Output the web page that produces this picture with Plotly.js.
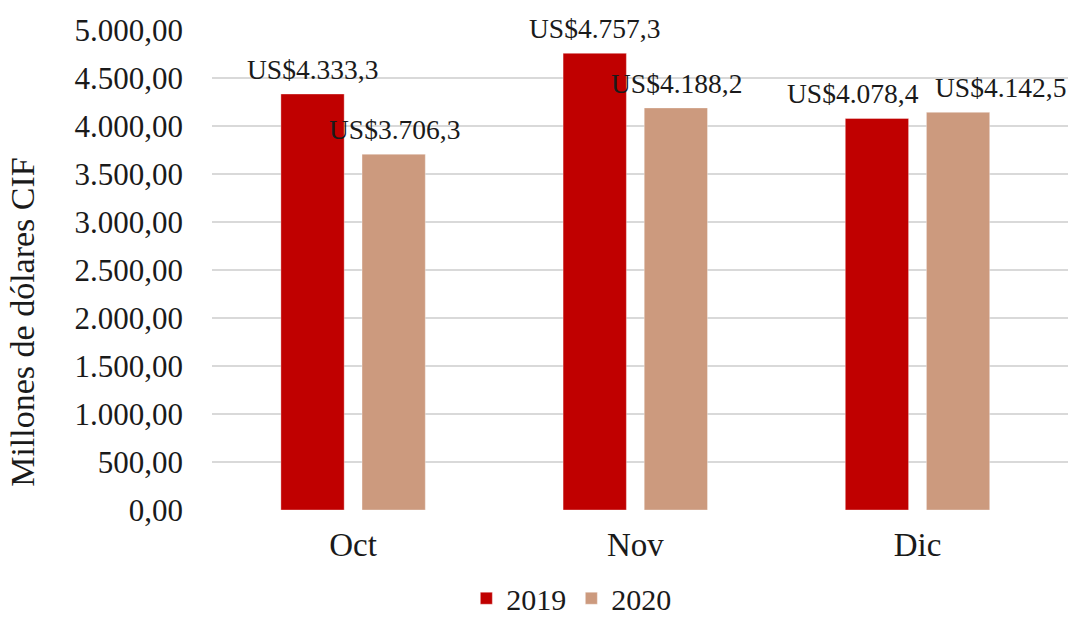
<!DOCTYPE html>
<html>
<head>
<meta charset="utf-8">
<script src="https://cdn.plot.ly/plotly-3.0.1.min.js"></script>
<style>html,body{margin:0;padding:0;background:#fff;}#chart{width:1077px;height:618px;}</style>
</head>
<body>
<div id="chart"></div>
<script>
var months = ["Oct", "Nov", "Dic"];
var seriesNames = ["2019", "2020"];
var values2019 = [4333.3, 4757.3, 4078.4];
var values2020 = [3706.3, 4188.2, 4142.5];
var tickVals = [0, 500, 1000, 1500, 2000, 2500, 3000, 3500, 4000, 4500, 5000];
var yTitle = "Millones de dólares CIF";

var colors = ["#C00000", "#CC9A7E"];
var FONT = "Liberation Serif, Times New Roman, serif";
var TXT = "#1a1a1a";
var seriesShift = [-41, 41];
var labelNudge = [[0, 0, -24], [0, 0, 42]];

function fmt(v) {
  var s = v.toFixed(1).split(".");
  var intPart = s[0].replace(/\B(?=(\d{3})+(?!\d))/g, ".");
  return "US$" + intPart + "," + s[1];
}

var allValues = [values2019, values2020];
var traces = allValues.map(function (vals, i) {
  return {
    type: "bar",
    name: seriesNames[i],
    x: months,
    y: vals,
    marker: { color: colors[i], line: { color: "rgba(255,255,255,0.35)", width: 1 } },
    hoverinfo: "skip"
  };
});

var annotations = [];
allValues.forEach(function (vals, i) {
  vals.forEach(function (v, j) {
    annotations.push({
      x: months[j], y: v, xref: "x", yref: "y",
      text: fmt(v),
      showarrow: false, yanchor: "bottom", xanchor: "center",
      xshift: seriesShift[i] + labelNudge[i][j], yshift: 7,
      font: { family: FONT, size: 27.5, color: TXT }
    });
  });
});
// y-axis title (placed as rotated text, offset toward the bottom like the original)
annotations.push({
  text: yTitle, xref: "paper", yref: "paper",
  x: -0.2208, y: 0.392, xanchor: "center", yanchor: "middle",
  textangle: -90, showarrow: false,
  font: { family: FONT, size: 34, color: TXT }
});

var layout = {
  width: 1077, height: 618,
  paper_bgcolor: "#ffffff", plot_bgcolor: "#ffffff",
  separators: ",.",
  margin: { l: 212, r: 9, t: 30, b: 108, pad: 0 },
  font: { family: FONT, size: 31, color: TXT },
  barmode: "group",
  bargap: 0.425,
  bargroupgap: 0.22,
  showlegend: true,
  legend: {
    orientation: "h",
    xref: "container", yref: "container",
    x: 0.433, xanchor: "left",
    y: 0.032, yanchor: "middle",
    font: { family: FONT, size: 30, color: TXT },
    itemwidth: 30,
    tracegroupgap: 0
  },
  xaxis: {
    type: "category",
    showgrid: false, zeroline: false, showline: false,
    ticks: "", ticklabelstandoff: 12,
    tickfont: { family: FONT, size: 33, color: TXT }
  },
  yaxis: {
    range: [0, 5000],
    tickvals: tickVals,
    tickformat: ",.2f",
    showgrid: true, gridcolor: "#D9D9D9", gridwidth: 1.3,
    zeroline: false, showline: false, ticks: "",
    ticklabelstandoff: 28,
    tickfont: { family: FONT, size: 31, color: TXT }
  },
  annotations: annotations
};

Plotly.newPlot("chart", traces, layout, { displayModeBar: false, staticPlot: true });
</script>
</body>
</html>
